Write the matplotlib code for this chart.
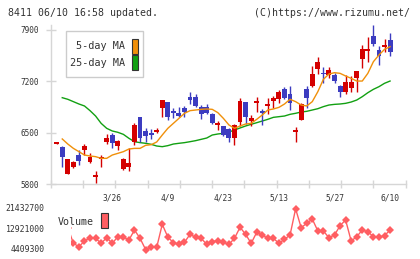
import matplotlib
import numpy as np

matplotlib.use("Agg")
import matplotlib.pyplot as plt
from matplotlib.patches import Rectangle

plt.rcParams["font.family"] = "DejaVu Sans Mono"

# daily candles, oldest first (61 trading days)
opens = [6345, 6309, 5936, 6027, 6195, 6264, 6105, 5891, 6145, 6377,
         6468, 6318, 6000, 6027, 6377, 6709, 6523, 6477, 6509, 6832,
         6923, 6800, 6764, 6832, 6982, 6991, 6845, 6855, 6755, 6600,
         6591, 6545, 6423, 6650, 6923, 6664, 6900, 6800, 6868, 6936,
         6955, 7091, 7027, 6505, 6673, 7095, 7136, 7368, 7318, 7286,
         7286, 7136, 7059, 7105, 7250, 7500, 7618, 7818, 7627, 7664,
         7764]
highs = [6360, 6315, 6145, 6120, 6264, 6345, 6227, 5977, 6195, 6482,
         6491, 6400, 6150, 6286, 6636, 6709, 6568, 6545, 6559, 6945,
         6923, 6832, 6845, 6864, 7059, 7027, 6877, 6891, 6773, 6664,
         6591, 6559, 6618, 6968, 6923, 6741, 6991, 6818, 6968, 7000,
         7082, 7127, 7136, 6582, 6909, 7136, 7409, 7536, 7400, 7400,
         7318, 7150, 7286, 7277, 7341, 7695, 7800, 7968, 7682, 7773,
         7855]
lows = [6345, 6036, 5936, 6020, 6059, 6195, 6091, 5818, 6036, 6345,
        6286, 6264, 5991, 5982, 6332, 6377, 6377, 6409, 6491, 6718,
        6673, 6695, 6709, 6718, 6891, 6855, 6682, 6755, 6618, 6536,
        6455, 6377, 6332, 6591, 6618, 6591, 6786, 6605, 6755, 6832,
        6909, 6955, 6809, 6377, 6673, 6832, 7127, 7300, 7182, 7241,
        7173, 6991, 7027, 7059, 7059, 7377, 7468, 7682, 7423, 7605,
        7545]
closes = [6360, 6173, 6136, 6105, 6118, 6318, 6164, 5923, 6164, 6432,
          6364, 6386, 6136, 6082, 6605, 6423, 6455, 6468, 6536, 6945,
          6718, 6773, 6727, 6786, 6945, 6864, 6755, 6773, 6636, 6618,
          6468, 6423, 6605, 6932, 6718, 6705, 6936, 6764, 6886, 6968,
          7059, 6968, 6909, 6523, 6891, 6968, 7300, 7468, 7295, 7355,
          7209, 7059, 7186, 7186, 7341, 7636, 7636, 7709, 7545, 7695,
          7605]

ma5 = [np.nan, 6414, 6345, 6286, 6241, 6195, 6182, 6173, 6150, 6150,
       6195, 6218, 6241, 6277, 6286, 6286, 6327, 6336, 6373, 6468,
       6559, 6627, 6695, 6764, 6800, 6809, 6818, 6823, 6818, 6773,
       6695, 6605, 6559, 6591, 6618, 6627, 6682, 6741, 6809, 6823,
       6845, 6891, 6955, 6923, 6877, 6864, 6923, 7059, 7227, 7300,
       7318, 7309, 7273, 7241, 7204, 7204, 7309, 7468, 7559, 7636,
       7673]
ma25 = [np.nan, 6977, 6955, 6923, 6891, 6864, 6800, 6727, 6627, 6559,
        6523, 6505, 6477, 6423, 6377, 6364, 6355, 6341, 6318, 6309,
        6323, 6345, 6355, 6364, 6377, 6391, 6409, 6427, 6468, 6482,
        6491, 6509, 6536, 6564, 6591, 6614, 6636, 6659, 6682, 6709,
        6718, 6727, 6750, 6764, 6782, 6791, 6809, 6827, 6855, 6877,
        6886, 6891, 6900, 6918, 6945, 6991, 7045, 7091, 7127, 7173,
        7204]

volume = [9000000, 8500000, 13600000, 7000000, 5580000, 7960000, 9350000,
          9090000, 7000000, 9350000, 7000000, 9760000, 9600000, 8380000,
          12570000, 9090000, 4409300, 5580000, 5330000, 14950000, 9600000,
          7250000, 6580000, 7420000, 10770000, 9510000, 9090000, 6580000,
          7670000, 8090000, 7420000, 6580000, 9090000, 13700000, 10770000,
          7000000, 11600000, 10470000, 9090000, 9090000, 7000000, 8680000,
          10470000, 21432700, 13530000, 15370000, 17170000, 12150000,
          12150000, 9350000, 10470000, 14370000, 16750000, 7960000,
          9760000, 12570000, 11860000, 9760000, 9510000, 10180000, 12570000]

date_idx = [10, 20, 30, 40, 50, 60]
date_labels = ["3/26", "4/9", "4/23", "5/13", "5/27", "6/10"]
price_ticks = [5800, 6500, 7200, 7900]
vol_ticks = [4409300, 12921000, 21432700]

W, H = 420, 259
RED, BLUE = "#d40000", "#3c3cc0"
ORANGE, GREEN, PINK = "#f0900a", "#12a012", "#ff5e62"
GRID, TXT = "#d6d6d6", "#333333"

# pixel <-> data helpers (candle 0 sits at x=56.7px, 5.556px per day)
X0, DX = 56.7, 5.556
def xd(px):
    return (px - X0) / DX

def fx(px):
    return px / W

def fy(py):
    return 1 - py / H

fig = plt.figure(figsize=(W / 100, H / 100), dpi=100)
fig.patch.set_facecolor("white")

# price panel
ax = fig.add_axes([fx(50.7), fy(184), fx(405.7) - fx(50.7), fy(25) - fy(184)])
ax.set_xlim(xd(50.7), xd(405.7))
ax.set_ylim(5800, 5800 + (184 - 25) * 2100 / 154)
for s in ["top", "right"]:
    ax.spines[s].set_visible(False)
for s in ["left", "bottom"]:
    ax.spines[s].set_color(GRID)
    ax.spines[s].set_linewidth(1)

x = np.arange(len(closes))
o, h, l, c = map(np.array, (opens, highs, lows, closes))
cols = [RED if cc >= oo else BLUE for oo, cc in zip(o, c)]
ax.vlines(x, l, h, colors=cols, lw=1, zorder=3)
body = np.maximum(np.abs(c - o), 25)
ax.bar(x, body, bottom=np.minimum(o, c), width=0.88, color=cols,
       linewidth=0, zorder=4)
ax.plot(x, ma5, color=ORANGE, lw=1, zorder=5)
ax.plot(x, ma25, color=GREEN, lw=1, zorder=2)

ax.set_yticks(price_ticks)
ax.tick_params(axis="y", direction="inout", length=6.5, width=1,
               color=GRID, labelsize=5.6, labelcolor=TXT, pad=5)
ax.set_xticks(np.linspace(xd(50.7), xd(405.7), 12))
ax.set_xticklabels([])
ax.tick_params(axis="x", which="major", direction="inout", length=5.8,
               width=1, color=GRID)
ax.set_xticks(date_idx, minor=True)
ax.set_xticklabels(date_labels, minor=True)
ax.tick_params(axis="x", which="minor", length=0, labelsize=5.7,
               labelcolor=TXT, pad=7)

# MA legend box
fig.patches.append(Rectangle((fx(65.7), fy(77.3)), fx(143.3) - fx(65.7),
                             fy(30.7) - fy(77.3), transform=fig.transFigure,
                             facecolor="white", edgecolor="#cccccc", lw=1,
                             zorder=10))
for lab, col, yc in [("5-day MA", ORANGE, 46), ("25-day MA", GREEN, 62.5)]:
    fig.text(fx(125.5), fy(yc), lab, ha="right", va="center", fontsize=7.3,
             color=TXT, zorder=11)
    fig.patches.append(Rectangle((fx(131.5), fy(yc + 7.5)), fx(6), fx(0) + 15 / H,
                                 transform=fig.transFigure, facecolor=col,
                                 edgecolor="#333333", lw=0.8, zorder=11))

# volume panel
VY0, VDY = 249.5, 17023400 / 40.7
axv = fig.add_axes([fx(70.5), fy(254), fx(405.7) - fx(70.5), fy(204) - fy(254)])
axv.set_xlim(xd(70.5), xd(405.7))
axv.set_ylim(4409300 - (254 - VY0) * VDY, 4409300 + (VY0 - 204) * VDY)
axv.axis("off")
axv.plot(x, volume, color=PINK, lw=1, marker="D", markersize=4.2,
         markeredgewidth=0, zorder=3)
for v in vol_ticks:
    fig.text(fx(44.5), fy(VY0 - (v - 4409300) / VDY), f"{v}", ha="right",
             va="center", fontsize=5.9, color=TXT)

fig.text(fx(58), fy(221.7), "Volume", ha="left", va="center", fontsize=7.2,
         color=TXT)
fig.patches.append(Rectangle((fx(101.2), fy(228.3)), fx(6.3), 15 / H,
                             transform=fig.transFigure, facecolor=PINK,
                             edgecolor="#333333", lw=0.8, zorder=11))

# header
fig.text(fx(8), fy(12.8), "8411 06/10 16:58 updated.", ha="left",
         va="center", fontsize=7.1, color=TXT)
fig.text(fx(410.5), fy(12.8), "(C)https://www.rizumu.net/", ha="right",
         va="center", fontsize=7.1, color=TXT)

fig.savefig("out.png", dpi=100, facecolor="white")
